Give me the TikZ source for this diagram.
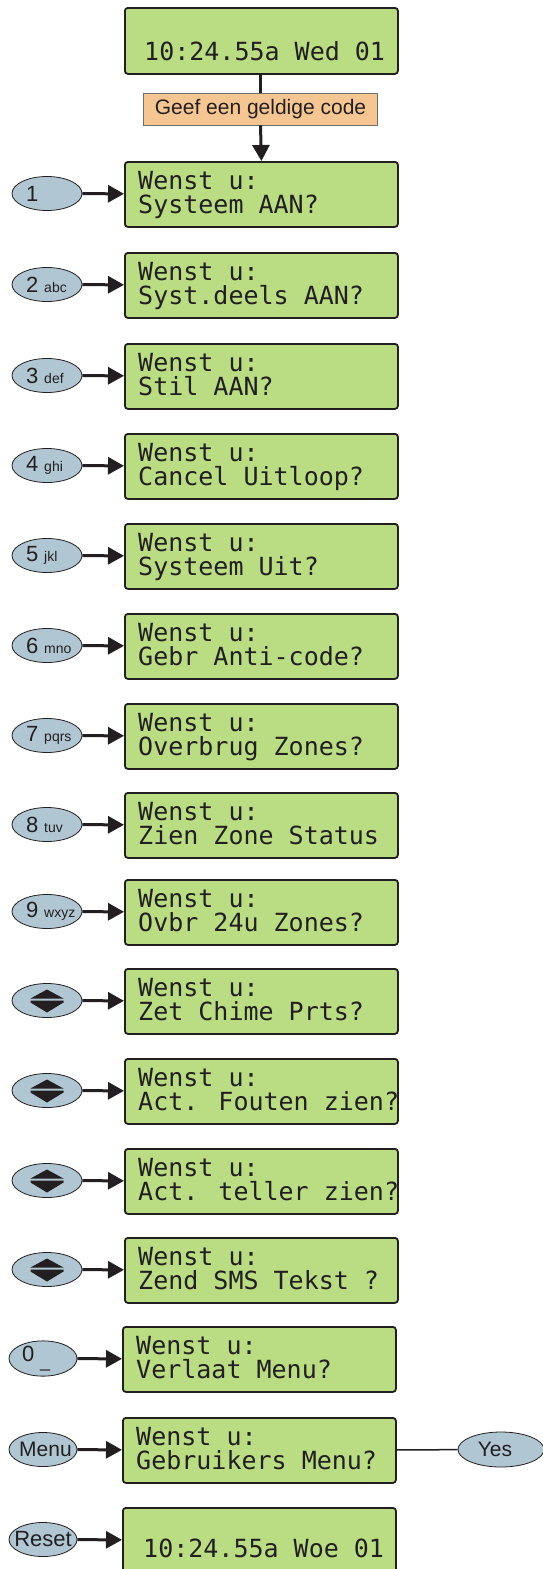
\documentclass[tikz,border=0pt]{standalone}
\usepackage{fontspec}
\setmainfont{Liberation Sans}
\newfontfamily\lcdfont{DejaVu Sans Mono}
\usetikzlibrary{shapes.geometric,arrows.meta}
\definecolor{lcdgreen}{HTML}{BADC82}
\definecolor{keyblue}{HTML}{B0C6D2}
\definecolor{lblorange}{HTML}{F6C692}
\definecolor{linec}{HTML}{231F20}
\definecolor{lblline}{HTML}{6E6E6E}
\newcommand\keylbl[2]{\makebox[42pt][l]{\fontsize{22}{24}\selectfont #1\hspace{6pt}\fontsize{14}{16}\selectfont #2}}
\newcommand\lcdrow[5]{%
  \node[lcd] (#1) at (#2,#3) {};
  \node[lcdtxt] (#1a) at ([shift={(14,28)}]#1.north west) {#4};
  \node[lcdtxt] (#1b) at ([shift={(14,52)}]#1.north west) {#5};
}
\tikzset{
  lcd/.style={draw=linec, fill=lcdgreen, line width=1.8pt, rounded corners=3pt,
    minimum width=273pt, minimum height=65pt, inner sep=0pt, anchor=north west},
  lcdtxt/.style={font=\lcdfont\fontsize{25}{25}\selectfont, anchor=base west, inner sep=0pt, text=linec},
  key/.style={ellipse, draw=linec, fill=keyblue, line width=0.8pt,
    minimum width=70pt, minimum height=34pt, inner sep=0pt, text=linec},
  arrowkey/.style={key, path picture={
    \fill[linec] ([shift={(-16.5,-2)}]path picture bounding box.center) -- ++(33,0) -- ++(-16.5,-9) -- cycle;
    \fill[linec] ([shift={(-16.5,0)}]path picture bounding box.center) -- ++(33,0) -- ++(0,2) -- ++(-16.5,10) -- ++(-16.5,-10) -- cycle;}},
  conn/.style={draw=linec, line width=3pt, -{Triangle[length=16pt,width=17pt]}},
  plain/.style={draw=linec, line width=3pt},
  lbl/.style={draw=lblline, line width=0.8pt, fill=lblorange, minimum width=234pt,
    minimum height=32pt, inner sep=0pt, font=\fontsize{21}{24}\selectfont, text=linec},
}
\begin{document}
\begin{tikzpicture}[x=1pt,y=-1pt]
\useasboundingbox (0,0) rectangle (543,1569);
\clip (0,0) rectangle (543,1569);

% top display
\node[lcd, minimum height=66pt] (top) at (124,7) {};
\node[lcdtxt] (topt) at ([shift={(20,53)}]top.north west) {10:24.55a Wed 01};
\node[lbl] (code) at (260.5,109) {Geef een geldige code};

% menu rows
\lcdrow{b1}{124}{161}{Wenst u:}{Systeem AAN?}
\lcdrow{b2}{124}{252}{Wenst u:}{Syst.deels AAN?}
\lcdrow{b3}{124}{343}{Wenst u:}{Stil AAN?}
\lcdrow{b4}{124}{433}{Wenst u:}{Cancel Uitloop?}
\lcdrow{b5}{124}{523}{Wenst u:}{Systeem Uit?}
\lcdrow{b6}{124}{613}{Wenst u:}{Gebr Anti-code?}
\lcdrow{b7}{124}{703}{Wenst u:}{Overbrug Zones?}
\lcdrow{b8}{124}{792}{Wenst u:}{Zien Zone Status}
\lcdrow{b9}{124}{879}{Wenst u:}{Ovbr 24u Zones?}
\lcdrow{b10}{124}{968}{Wenst u:}{Zet Chime Prts?}
\lcdrow{b11}{124}{1058}{Wenst u:}{Act. Fouten zien?}
\lcdrow{b12}{124}{1148}{Wenst u:}{Act. teller zien?}
\lcdrow{b13}{124}{1237}{Wenst u:}{Zend SMS Tekst ?}
\lcdrow{b14}{122}{1326}{Wenst u:}{Verlaat Menu?}
\lcdrow{b15}{122}{1417}{Wenst u:}{Gebruikers Menu?}
\node[lcd] (b16) at (122,1507) {};
\node[lcdtxt] (b16a) at ([shift={(21,50)}]b16.north west) {10:24.55a Woe 01};

% keys
\node[key] (k1) at (47,193.5) {\keylbl{1}{}};
\node[key] (k2) at (47,284.5) {\keylbl{2}{abc}};
\node[key] (k3) at (47,375.5) {\keylbl{3}{def}};
\node[key] (k4) at (47,465.5) {\keylbl{4}{ghi}};
\node[key] (k5) at (47,555.5) {\keylbl{5}{jkl}};
\node[key] (k6) at (47,645.5) {\keylbl{6}{mno}};
\node[key] (k7) at (47,735.5) {\keylbl{7}{pqrs}};
\node[key] (k8) at (47,824.5) {\keylbl{8}{tuv}};
\node[key] (k9) at (47,911.5) {\keylbl{9}{wxyz}};
\node[arrowkey] (k10) at (47,1000.5) {};
\node[arrowkey] (k11) at (47,1090.5) {};
\node[arrowkey] (k12) at (47,1180.5) {};
\node[arrowkey] (k13) at (47,1269.5) {};
\node[key, minimum width=68pt] (k14) at (43,1358.5) {\makebox[42pt][l]{\fontsize{22}{24}\selectfont 0\hspace{6pt}\fontsize{18}{20}\selectfont\raisebox{-6pt}{\_}}};
\node[key, minimum width=68pt] (k15) at (43,1449.5) {\makebox[40pt]{\fontsize{21}{22}\selectfont\hspace{5pt}Menu}};
\node[key, minimum width=68pt] (k16) at (43,1539.5) {\makebox[40pt]{\fontsize{22}{22}\selectfont Reset}};
\node[key, minimum width=86pt, minimum height=35pt] (yes) at (501,1449.5) {\makebox[30pt]{\fontsize{21}{22}\selectfont\hspace{-12pt}Yes}};

% connectors
\draw[plain] (code.north) -- (code.north |- top.south);
\draw[conn] (code.south) -- (b1.north);
\foreach \i in {1,...,16} {\draw[conn] (k\i) -- (b\i);}
\draw[draw=linec, line width=1.5pt] (b15) -- (yes);
\end{tikzpicture}
\end{document}
